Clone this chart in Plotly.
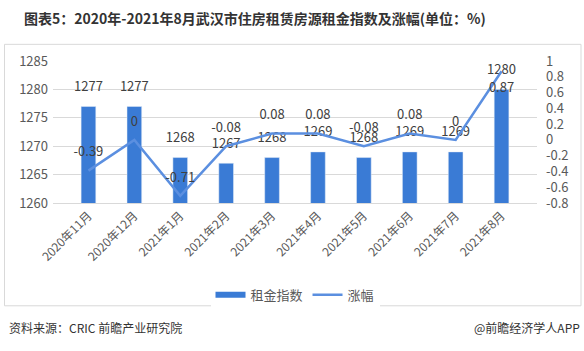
import plotly.graph_objects as go

categories = ["2020年11月", "2020年12月", "2021年1月", "2021年2月", "2021年3月",
              "2021年4月", "2021年5月", "2021年6月", "2021年7月", "2021年8月"]
rent_index = [1277, 1277, 1268, 1267, 1268, 1269, 1268, 1269, 1269, 1280]
change_pct = [-0.39, 0, -0.71, -0.08, 0.08, 0.08, -0.08, 0.08, 0, 0.87]
left_ticks = [1260, 1265, 1270, 1275, 1280, 1285]
right_ticks = [-0.8, -0.6, -0.4, -0.2, 0, 0.2, 0.4, 0.6, 0.8, 1]
right_ticktext = ["-0.8", "-0.6", "-0.4", "-0.2", "0", "0.2", "0.4", "0.6", "0.8", "1"]

FONT = "Noto Sans CJK SC, Microsoft YaHei, sans-serif"
BAR_C = "#3a7bd5"
LINE_C = "#5b8fe0"
TXT = "#404040"

def fmt(v):
    return "%g" % v

fig = go.Figure()
fig.add_trace(go.Bar(
    x=categories, y=rent_index, name="租金指数", showlegend=False,
    marker=dict(color=BAR_C), width=0.32,
))
# bar value labels
fig.add_trace(go.Scatter(
    x=categories, y=rent_index, mode="markers+text", showlegend=False,
    marker=dict(size=18, opacity=0), hoverinfo="skip",
    text=[str(v) for v in rent_index], textposition="top center",
    textfont=dict(size=13, color=TXT, family=FONT), cliponaxis=False,
))
# legend entry for bars (wide rectangle symbol like the reference)
fig.add_trace(go.Scatter(
    x=[None], y=[None], name="租金指数", mode="lines",
    line=dict(color=BAR_C, width=6), showlegend=True,
))
fig.add_trace(go.Scatter(
    x=categories, y=change_pct, name="涨幅", yaxis="y2",
    mode="lines", line=dict(color=LINE_C, width=2.5),
))
positions = ["top center"] * (len(change_pct) - 1) + ["bottom center"]
fig.add_trace(go.Scatter(
    x=categories, y=change_pct, yaxis="y2", showlegend=False,
    mode="markers+text", marker=dict(size=16, opacity=0), hoverinfo="skip",
    text=[fmt(v) for v in change_pct], textposition=positions,
    textfont=dict(size=13, color=TXT, family=FONT), cliponaxis=False,
))

W, H = 584, 351
L, R, T, B = 53, 537, 60.7, 203
pw, ph = R - L, B - T

def px(x):
    return (x - L) / pw

def py(y):
    return (B - y) / ph

fig.update_layout(
    width=W, height=H,
    margin=dict(l=L, r=W - R, t=T, b=H - B),
    paper_bgcolor="white", plot_bgcolor="white",
    font=dict(family=FONT, color="#595959", size=12),
    bargap=0.68,
    showlegend=True,
    legend=dict(orientation="h", x=0.5, xanchor="center", y=py(295), yanchor="middle",
                font=dict(size=13, color="#595959", family=FONT)),
    xaxis=dict(tickangle=-45, tickfont=dict(size=12, color="#595959"),
               showline=True, linecolor="#d9d9d9", ticks="", showgrid=False),
    yaxis=dict(range=[1260, 1285], tickvals=left_ticks, showgrid=True,
               gridcolor="#d9d9d9", zeroline=False, tickfont=dict(size=13, color="#595959"),
               ticklabelstandoff=4),
    yaxis2=dict(range=[-0.8, 1], overlaying="y", side="right", tickvals=right_ticks,
                ticktext=right_ticktext, showgrid=False, zeroline=False,
                tickfont=dict(size=13, color="#595959"), ticklabelstandoff=8),
    shapes=[dict(type="rect", xref="paper", yref="paper",
                 x0=px(4.5), x1=px(581), y0=py(306), y1=py(44),
                 line=dict(color="#d9d9d9", width=1), fillcolor="rgba(0,0,0,0)",
                 layer="below")],
    annotations=[
        dict(text="<b>图表5：2020年-2021年8月武汉市住房租赁房源租金指数及涨幅(单位：%)</b>",
             xref="paper", yref="paper", x=px(22), y=py(18), xanchor="left", yanchor="middle",
             showarrow=False, font=dict(size=14, color="#333333", family=FONT)),
        dict(text="资料来源：CRIC 前瞻产业研究院", xref="paper", yref="paper",
             x=px(7), y=py(328), xanchor="left", yanchor="middle", showarrow=False,
             font=dict(size=12, color="#333333", family=FONT)),
        dict(text="@前瞻经济学人APP", xref="paper", yref="paper",
             x=px(582), y=py(328), xanchor="right", yanchor="middle", showarrow=False,
             font=dict(size=12, color="#333333", family=FONT)),
    ],
)

fig.write_html("out.html")
